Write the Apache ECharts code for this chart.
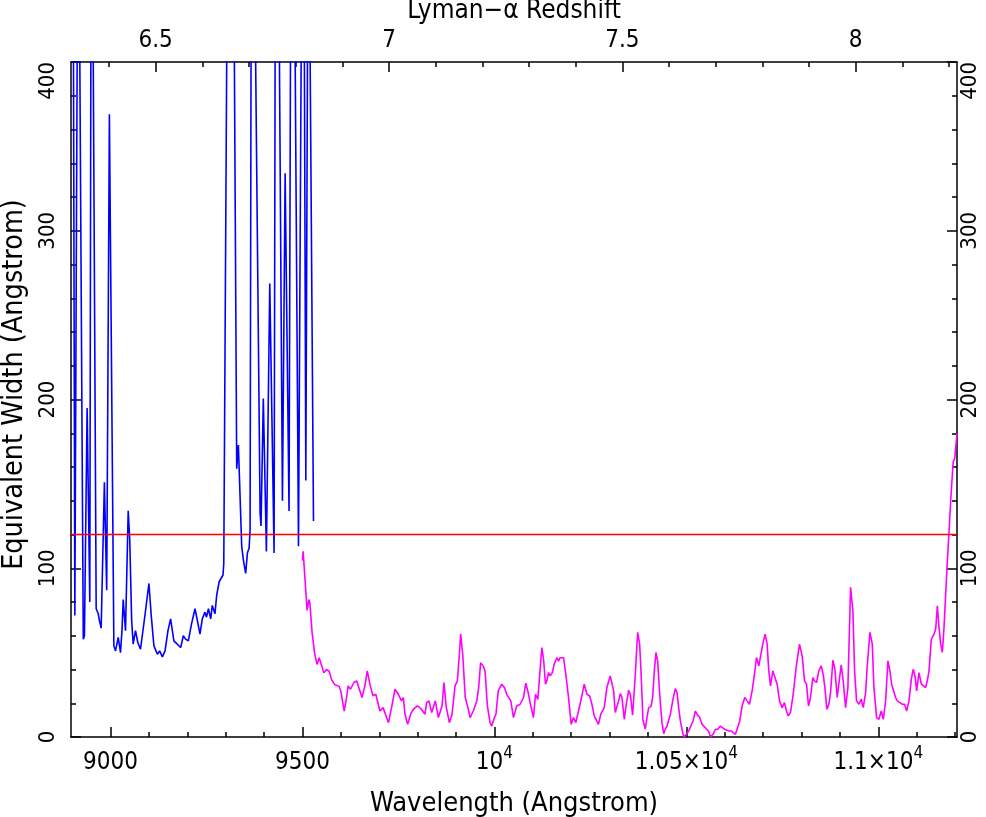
<!DOCTYPE html>
<html>
<head>
<meta charset="utf-8">
<script src="https://cdn.jsdelivr.net/npm/echarts@6/dist/echarts.min.js"></script>
<style>
html,body{margin:0;padding:0;background:#fff;}
#chart{width:986px;height:817px;}
</style>
</head>
<body>
<div id="chart"></div>
<script>
// ---------------- DATA ----------------
const LYA = 1215.67;
const xMin = 8897, xMax = 11205;
const yMin = 0, yMax = 400;
const threshold = 120;

const blueWave = [8897,8903.5,8907,8913,8916,8920,8929,8932,8939,8946,8948.7,8952,8955,8962.6,8968,8971,8975.6,8984,8990,8997,
  9008.7,9013,9020,9026,9030,9033,9039,9046,9050,9055,9059,9065,9071,9078,9082.6,9089.6,9094,9100,9106,9113,9122,9128,9135,9142,
  9149.6,9156.5,9165,9174,9182.6,9189.6,9195.6,9202.6,9211,9220,9227,9233,9239,9246,9250,9255,9261,9265,9272,9276.5,9283,9288,
  9293,9295,9302.6,9312,9322.6,9328.7,9333,9341.7,9346,9349,9352,9356.5,9361,9363.5,9366,9372,9378,9389.6,9392,9398,9406,
  9414.8,9426,9428.7,9434,9440,9447.8,9454.8,9465,9468.7,9475,9481,9489.6,9496.5,9500.5,9505,9508.7,9513,9516.5,9520,9528.7];
const blueEW = [700,400,72,400,600,400,58,60,195,80,400,700,400,76,73,69,64.5,151,87,369,
  54,51,59,50,64,81.5,63,134,117,69,55,63,56,52,52,72,73,91,72,54,49,51,47.5,51,
  63,70,57,55,53,60,58,57,67,76,68,61,70,74,71,76,70,78,73,84,92,93,
  96,103,400,800,400,159,173,113,105,105,97,109,112,123,400,800,400,132.6,125,200.6,110,
  268.7,109,400,800,400,140,334,134,400,800,400,113,400,700,400,152,400,700,400,128];

const magWave = [9500,9501.7,9512,9516.5,9519,9525,9532,9538,9543.5,9548.7,9555.7,9562.6,9569.6,9575.7,9584,9595.7,9600,9608.7,
  9614.8,9619,9625,9634,9641,9646,9655,9662.6,9668.7,9675.7,9683.5,9691,9694.8,9701.7,9710,9724,9732,9740.9,9749.6,9758,9762.6,
  9767,9774,9781.7,9788.7,9793,9799,9806,9813,9819,9823.5,9829.6,9836.5,9846,9854,9863.5,9868.7,9874,9882.6,9889.6,9897.4,9903.5,
  9908.7,9912,9917.4,9924,9931,9936.5,9945,9954,9959,9964,9971,9975.7,9981.7,9988.7,9993,10000,10004,10010,10019,10026,10032,
  10037,10042.6,10049.6,10058,10067,10075.7,10081.7,10087,10093,10101.7,10107,10113,10123.5,10128,10133,10136.5,10141,10145,
  10151,10155.7,10162.6,10167,10171,10180,10186,10193,10200,10206,10212,10219,10225,10234,10241,10248,10254,10260,10271,10277,
  10286,10293,10301.7,10310.5,10314.8,10319.2,10323.5,10327.9,10332.2,10338.3,10343.5,10349.6,10354,10360,10367,10373.1,
  10378.3,10381.8,10387,10393.1,10397.4,10401.8,10407.8,10412.2,10416.5,10420.9,10425.2,10430.5,10436.5,10440.9,10445.2,
  10449.6,10453.9,10458.3,10465.2,10471.3,10475.7,10480,10484.4,10491.3,10494.8,10500,10506.1,10510.4,10517.4,10523.5,
  10527.8,10534.8,10540.9,10549.6,10558.3,10562.6,10569.6,10575.6,10581.7,10588.7,10593,10599.1,10604.3,10610.4,10616.5,
  10621.7,10627.8,10632.2,10639.1,10645.2,10652.2,10658.2,10664.3,10671.3,10677.4,10682.6,10688.7,10693,10699.1,10705.2,
  10710.4,10714.7,10719.1,10725.2,10730.4,10736.5,10742.6,10749.5,10755.6,10760.8,10765.2,10771.3,10778.2,10786,10794.7,
  10801.7,10807.8,10813,10818.2,10823.4,10829.5,10833.8,10839.1,10845.1,10851.2,10856.4,10860.8,10866,10871.2,10875.6,
  10881.7,10886.9,10893,10898.2,10903.4,10908.6,10914.7,10920.8,10927.7,10933.8,10938.2,10943.4,10949.5,10955.6,10960.8,
  10966.9,10971.2,10978.2,10984.3,10988.6,10995.6,11001.6,11007.7,11013,11019,11025.1,11030.3,11034.7,11039.1,11045.1,
  11049.5,11056.4,11062.5,11068.6,11073.8,11079.9,11086,11091.2,11095.5,11099.9,11106,11112.1,11117.3,11123.4,11127.7,
  11132.1,11138.1,11145.1,11149.5,11153.8,11158.2,11162.5,11166.8,11171.2,11179.9,11183.8,11188.6,11195,11199,11205];
const magEW = [104.5,110,75,81.4,80,62,49,43,47,47,38,40,39,34,31,30,27,15.4,
  23.4,30.3,28.3,32.3,33.3,32.3,23.4,30.3,39.2,31.3,24.4,25.3,25.3,15.4,17.4,8.5,17.4,28.3,25.3,21.4,23.4,
  13.5,7.5,13.5,16.4,15.4,18.4,17.4,15.4,13.5,20.4,21.4,14.5,21.4,11.5,18.4,32.3,18.4,8.5,13.5,30.3,33.3,
  49,61,49,23.4,17.4,11.5,15.4,21.4,29.3,44,42,39,18.4,8.5,6.5,11.5,13.5,27.3,31.3,29.3,25.3,
  26.3,21.4,11.5,18.4,19.4,23.4,31.9,27.3,20.4,11.5,25.3,22.3,53,46,31.3,33.3,38.2,36.2,
  38.2,43.2,47,45,47,47,37.2,23.4,7.5,11.5,8.5,15.4,21.4,31.3,25.3,24.4,19.4,12.5,7.5,13.5,
  17.4,29.3,36.2,27.3,14.5,14.5,21.4,25.7,23.4,10.5,19.4,27.7,25.3,13,37.2,62,
  55,39.2,9.9,4.6,11.5,17.4,18,23.4,39.2,50.1,45.1,25.3,8.5,2,4.6,
  6.5,7.5,13.5,22.4,28.7,26.3,17.4,9.5,1.6,0,1.6,3.6,3.6,9.5,15.4,
  13.5,11.5,7.5,5.5,3.2,0,1.6,4.6,4.6,6.5,5.5,4.6,5.5,3.6,3.6,
  3.2,1.6,0.6,9.5,18.4,23.4,21.4,19.4,27.3,37.2,47.1,42.2,43.2,55,61,
  55,39.2,30.3,39.2,40.2,31.3,21.4,17.4,20.4,15.4,12.5,14.5,25.3,41.2,55,
  48.1,33.3,31.3,18.4,23.4,35.2,33.3,32.3,39.2,42.2,37.2,29.3,16.4,19.4,26.3,
  45.5,40.2,23.4,33.3,42.8,33.3,17.4,29.3,88.7,74.9,39.2,21.4,19.4,22.4,17.4,
  26.3,42.2,62,55,29.3,11.5,10.5,15.4,10.5,21.4,45.1,39.2,31.3,30.3,23.4,
  21.4,20.4,19.4,19.4,15.4,21.4,34.3,40.2,36.2,27.3,38.2,31.3,31.3,29.3,33.3,
  39.2,58,61,64,77.8,65,55,50.1,65,104.5,120,140,163,165,180];

const xMajorTicks = [9000, 9500, 10000, 10500, 11000];
const xMajorLabels = ['9000', '9500', '10^4', '1.05\u00d710^4', '1.1\u00d710^4'];
const xMinorTicks = [9000,9100,9200,9300,9400,9500,9600,9700,9800,9900,10000,10100,10200,10300,10400,10500,10600,10700,10800,10900,11000,11100,11200];
const zMajorTicks = [6.5, 7, 7.5, 8];
const zMajorLabels = ['6.5', '7', '7.5', '8'];
const zMinorTicks = [6.4,6.5,6.6,6.7,6.8,6.9,7.0,7.1,7.2,7.3,7.4,7.5,7.6,7.7,7.8,7.9,8.0,8.1,8.2];

const xTitle = 'Wavelength (Angstrom)';
const yTitle = 'Equivalent Width (Angstrom)';
const topTitle = 'Lyman\u2212\u03b1 Redshift';

// ---------------- CHART ----------------
const FONT = "'Liberation Sans Narrow', 'DejaVu Sans Condensed', 'DejaVu Sans', sans-serif";
const TICKF = 24;
const YTICKF = 22;
const TITLEF = 27;
const zToWave = z => LYA * (1 + z);
const zMajWave = zMajorTicks.map(zToWave);
const zMinWave = zMinorTicks.map(zToWave);

function pairs(xs, ys) { return xs.map((x, i) => [x, ys[i]]); }

function xLabel(v) {
  const i = xMajorTicks.indexOf(v);
  const s = i >= 0 ? xMajorLabels[i] : String(v);
  const parts = s.split('^');
  return parts.length > 1 ? '{n|' + parts[0] + '}{s|' + parts[1] + '}' : '{n|' + s + '}';
}
function zLabel(v) {
  let best = 0, bd = Infinity;
  zMajWave.forEach((w, i) => { const d = Math.abs(w - v); if (d < bd) { bd = d; best = i; } });
  return zMajorLabels[best];
}

const axisLineStyle = { color: '#000', width: 1.5 };
const base = { type: 'value', min: xMin, max: xMax, splitLine: { show: false } };

const chart = echarts.init(document.getElementById('chart'), null, { renderer: 'canvas' });
chart.setOption({
  animation: false,
  backgroundColor: '#fff',
  grid: { left: 71, top: 62, width: 886, height: 675, containLabel: false, outerBoundsMode: 'none' },
  xAxis: [
    Object.assign({}, base, {
      position: 'bottom',
      name: xTitle, nameLocation: 'middle', nameGap: 53,
      nameTextStyle: { fontFamily: FONT, fontSize: TITLEF, color: '#000' },
      axisLine: { show: true, lineStyle: axisLineStyle },
      axisTick: { show: true, inside: true, length: 10, customValues: xMajorTicks, lineStyle: { color: '#000', width: 1.5 } },
      axisLabel: {
        show: true, customValues: xMajorTicks, margin: 6, color: '#000',
        fontFamily: FONT, fontSize: TICKF,
        formatter: xLabel,
        rich: {
          n: { fontFamily: FONT, fontSize: TICKF, color: '#000', padding: [8, 0, 0, 0] },
          s: { fontFamily: FONT, fontSize: 17, color: '#000', padding: [0, 0, 11, 0] }
        }
      }
    }),
    Object.assign({}, base, {
      position: 'bottom',
      axisLine: { show: false },
      axisTick: { show: true, inside: true, length: 5, customValues: xMinorTicks, lineStyle: { color: '#000', width: 1.5 } },
      axisLabel: { show: false }
    }),
    Object.assign({}, base, {
      position: 'top',
      name: topTitle, nameLocation: 'middle', nameGap: 21,
      nameTextStyle: { fontFamily: FONT, fontSize: 26, color: '#000', verticalAlign: 'bottom' },
      axisLine: { show: true, lineStyle: axisLineStyle },
      axisTick: { show: true, inside: true, length: 10, customValues: zMajWave, lineStyle: { color: '#000', width: 1.5 } },
      axisLabel: { show: true, customValues: zMajWave, margin: 9, formatter: zLabel, fontFamily: FONT, fontSize: TICKF, color: '#000' }
    }),
    Object.assign({}, base, {
      position: 'top',
      axisLine: { show: false },
      axisTick: { show: true, inside: true, length: 5, customValues: zMinWave, lineStyle: { color: '#000', width: 1.5 } },
      axisLabel: { show: false }
    })
  ],
  yAxis: [
    {
      type: 'value', position: 'left', min: yMin, max: yMax, interval: 100,
      name: yTitle, nameLocation: 'middle', nameGap: 39, nameRotate: 90,
      nameTextStyle: { fontFamily: FONT, fontSize: 28.5, color: '#000', padding: [0, 0, 0, 30] },
      axisLine: { show: true, lineStyle: axisLineStyle },
      axisTick: { show: true, inside: true, length: 10, lineStyle: { color: '#000', width: 1.5 } },
      minorTick: { show: true, splitNumber: 5, length: 5, lineStyle: { color: '#000', width: 1.5 } },
      splitLine: { show: false }, minorSplitLine: { show: false },
      axisLabel: { show: true, rotate: 90, margin: 12, fontFamily: FONT, fontSize: YTICKF, color: '#000', alignMaxLabel: 'right' }
    },
    {
      type: 'value', position: 'right', min: yMin, max: yMax, interval: 100,
      axisLine: { show: true, lineStyle: axisLineStyle },
      axisTick: { show: true, inside: true, length: 10, lineStyle: { color: '#000', width: 1.5 } },
      minorTick: { show: true, splitNumber: 5, length: 5, lineStyle: { color: '#000', width: 1.5 } },
      splitLine: { show: false }, minorSplitLine: { show: false },
      axisLabel: { show: true, rotate: 90, margin: 2, fontFamily: FONT, fontSize: YTICKF, color: '#000', alignMaxLabel: 'right' }
    }
  ],
  series: [
    {
      type: 'line', name: 'blue', xAxisIndex: 0, yAxisIndex: 0,
      data: pairs(blueWave, blueEW), showSymbol: false, symbol: 'none', clip: true,
      lineStyle: { color: '#0000ff', width: 1.6 }, silent: true
    },
    {
      type: 'line', name: 'magenta', xAxisIndex: 0, yAxisIndex: 0,
      data: pairs(magWave, magEW), showSymbol: false, symbol: 'none', clip: true,
      lineStyle: { color: '#ff00ff', width: 1.6 }, silent: true
    },
    {
      type: 'line', name: 'threshold', xAxisIndex: 0, yAxisIndex: 0,
      data: [[xMin, threshold], [xMax, threshold]], showSymbol: false, symbol: 'none',
      lineStyle: { color: '#ff0000', width: 1.5 }, silent: true
    }
  ]
});
</script>
</body>
</html>
